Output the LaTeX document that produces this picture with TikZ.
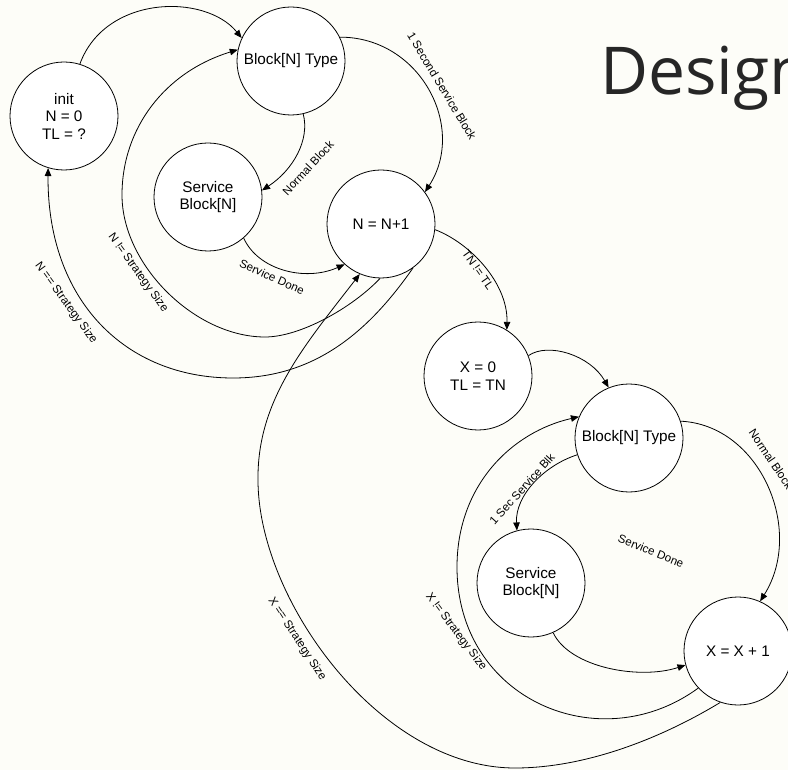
\documentclass[tikz,border=0pt]{standalone}
\usepackage{fontspec}
\setmainfont{Liberation Sans}
\newfontfamily\titlefont{Open Sans}
\usetikzlibrary{arrows.meta}
\definecolor{paper}{RGB}{253,253,248}
\definecolor{titlegray}{RGB}{38,38,38}
\begin{document}
\begin{tikzpicture}[x=1pt,y=-1pt,
  state/.style={circle,draw,fill=white,line width=0.8pt,minimum size=108pt,
    inner sep=0pt,align=center,font=\fontsize{15.3}{17.5}\selectfont},
  trans/.style={line width=0.8pt,-{Triangle[length=8pt,width=6.5pt]}},
  lbl/.style={font=\fontsize{11.6}{13}\selectfont,inner sep=0pt}]

\useasboundingbox (0,0) rectangle (788,770);
\fill[paper] (0,0) rectangle (788,770);

% heading
\node[anchor=base west,inner sep=0pt,text=titlegray,
      font=\titlefont\fontsize{66}{70}\selectfont] (title) at (600,95) {Design};

% outer loop states
\node[state] (init) at (64,116)  {init\\N = 0\\TL = ?};
\node[state] (bt1)  at (291,61)  {Block[N] Type};
\node[state] (sb1)  at (208,197) {Service\\Block[N]};
\node[state] (nn)   at (381,224) {N = N+1};

% inner loop states
\node[state] (x0)   at (478,376) {X = 0\\TL = TN};
\node[state] (bt2)  at (629,438) {Block[N] Type};
\node[state] (sb2)  at (531,583) {Service\\Block[N]};
\node[state] (xx)   at (738,651) {X = X + 1};

% outer loop transitions
\draw[trans] (init.73) .. controls (105,-5) and (205,-7) .. (bt1.155);
\draw[trans] (bt1.26) .. controls (420,37) and (467,127) .. (nn.36);
\draw[trans] (bt1.-77) .. controls (310,140) and (293,170) .. (sb1.7);
\draw[trans] (sb1.-49) .. controls (258,270) and (305,282) .. (nn.-132);
\draw[trans] (nn.-91) .. controls (352,308) and (300,337) .. (265,337)
                      .. controls (195,337) and (122,265) .. (122,195)
                      .. controls (122,128) and (165,72) .. (bt1.168);
\draw[trans] (nn.-54) .. controls (367,334) and (313,378) .. (233,378)
                      .. controls (125,378) and (47,300) .. (init.-107);
\draw[trans] (nn.-6) .. controls (470,243) and (508,283) .. (x0.58);

% inner loop transitions
\draw[trans] (x0.22) .. controls (548,342) and (590,355) .. (bt2.112);
\draw[trans] (bt2.18) .. controls (760,425) and (805,530) .. (xx.66);
\draw[trans] (bt2.-162) .. controls (545,465) and (515,495) .. (sb2.105);
\draw[trans] (sb2.-66) .. controls (570,668) and (640,680) .. (xx.-165);
\draw[trans] (xx.-137) .. controls (600,760) and (457,700) .. (457,567)
                       .. controls (457,485) and (512,432) .. (bt2.157);
\draw[trans] (xx.-109) .. controls (660,739) and (585,768) .. (515,768)
                       .. controls (380,768) and (258,600) .. (258,480)
                       .. controls (257,400) and (305,345) .. (nn.-113);

% transition labels
\node[lbl,rotate=-59] (l1)  at (442,86)  {1 Second Service Block};
\node[lbl,rotate=47]  (l2)  at (308,168) {Normal Block};
\node[lbl,rotate=-24] (l3)  at (272,277) {Service Done};
\node[lbl,rotate=-54] (l4)  at (138,273) {N != Strategy Size};
\node[lbl,rotate=-54] (l5)  at (66,303)  {N == Strategy Size};
\node[lbl,rotate=-55] (l6)  at (478,270) {TN != TL};
\node[lbl,rotate=-56] (l7)  at (771,459) {Normal Block};
\node[lbl,rotate=48]  (l8)  at (522,489) {1 Sec Service Blk};
\node[lbl,rotate=-22] (l9)  at (651,551) {Service Done};
\node[lbl,rotate=-53] (l10) at (456,632) {X != Strategy Size};
\node[lbl,rotate=-57] (l11) at (297,639) {X == Strategy Size};
\end{tikzpicture}
\end{document}
